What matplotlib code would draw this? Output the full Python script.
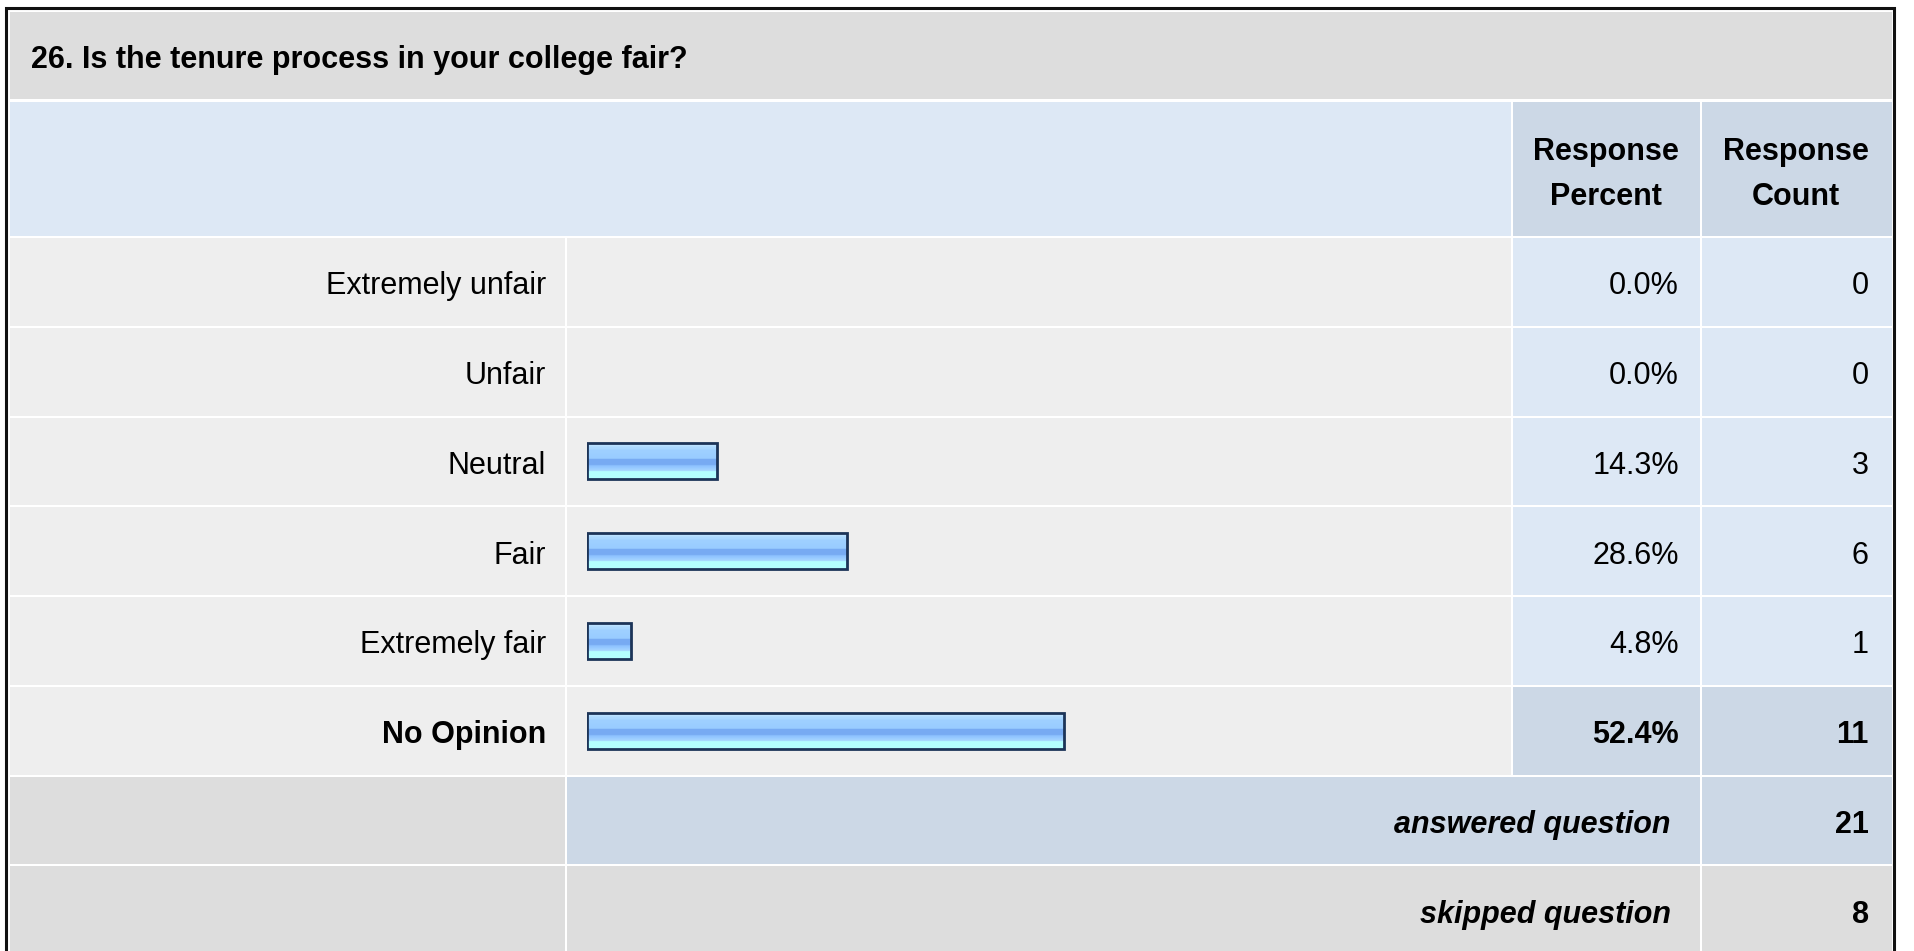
import numpy as np
import matplotlib.pyplot as plt
from matplotlib.patches import Rectangle
from matplotlib.colors import LinearSegmentedColormap

title = '26. Is the tenure process in your college fair?'
choices = ['Extremely unfair', 'Unfair', 'Neutral', 'Fair', 'Extremely fair', 'No Opinion']
percent = [0.0, 0.0, 14.3, 28.6, 4.8, 52.4]
count = [0, 0, 3, 6, 1, 11]
answered = 21
skipped = 8

W, H = 1915, 951
GRAY = '#dddddd'
LIGHT = '#eeeeee'
BLUE = '#dde8f5'
BLUE2 = '#ccd8e6'
FS = 22

plt.rcParams['font.family'] = ['Liberation Sans', 'DejaVu Sans']

fig = plt.figure(figsize=(W / 100, H / 100), dpi=100)
ax = fig.add_axes([0, 0, 1, 1])
ax.set_xlim(0, W)
ax.set_ylim(H, 0)
ax.axis('off')


def cell(x0, x1, y0, y1, color):
    ax.add_patch(Rectangle((x0, y0), x1 - x0, y1 - y0, facecolor=color, edgecolor='none'))


# outer frame (open at the bottom, the screenshot is cut there)
ax.plot([6, 6, 1894.5, 1894.5], [H + 5, 8, 8, H + 5], color='#111111', lw=2.2, solid_joinstyle='miter')

# column edges: label | bar | percent | count
cols = [(10, 565), (567, 1511), (1513, 1700), (1702, 1892)]
pitch = 89.75
row_top = [238 + pitch * i for i in range(8)]
row_h = pitch - 2

cell(10, 1892, 12, 99, GRAY)
cell(10, 1511, 102, 236, BLUE)
cell(1513, 1700, 102, 236, BLUE2)
cell(1702, 1892, 102, 236, BLUE2)

for i in range(len(choices)):
    y0 = row_top[i]
    last = i == len(choices) - 1
    cell(cols[0][0], cols[0][1], y0, y0 + row_h, LIGHT)
    cell(cols[1][0], cols[1][1], y0, y0 + row_h, LIGHT)
    cell(cols[2][0], cols[2][1], y0, y0 + row_h, BLUE2 if last else BLUE)
    cell(cols[3][0], cols[3][1], y0, y0 + row_h, BLUE2 if last else BLUE)

# summary rows
y0 = row_top[6]
cell(10, 565, y0, y0 + row_h, GRAY)
cell(567, 1700, y0, y0 + row_h, BLUE2)
cell(1702, 1892, y0, y0 + row_h, BLUE2)
y0 = row_top[7]
cell(10, 565, y0, H + 5, GRAY)
cell(567, 1700, y0, H + 5, GRAY)
cell(1702, 1892, y0, H + 5, GRAY)

# texts
ax.text(31, 68, title, fontsize=FS, fontweight='bold', va='baseline', ha='left')
ax.text(1606, 160, 'Response', fontsize=FS, fontweight='bold', va='baseline', ha='center')
ax.text(1606, 205, 'Percent', fontsize=FS, fontweight='bold', va='baseline', ha='center')
ax.text(1796, 160, 'Response', fontsize=FS, fontweight='bold', va='baseline', ha='center')
ax.text(1796, 205, 'Count', fontsize=FS, fontweight='bold', va='baseline', ha='center')

for i, (c, p, n) in enumerate(zip(choices, percent, count)):
    base = row_top[i] + row_h / 2 + 12.5
    wt = 'bold' if i == len(choices) - 1 else 'normal'
    ax.text(546, base, c, fontsize=FS, fontweight=wt, ha='right', va='baseline')
    ax.text(1679, base, f'{p:.1f}%', fontsize=FS, fontweight=wt, ha='right', va='baseline')
    ax.text(1869, base, str(n), fontsize=FS, fontweight=wt, ha='right', va='baseline')

base = row_top[6] + row_h / 2 + 12.5
ax.text(1671, base, 'answered question', fontsize=FS, fontweight='bold', style='italic', ha='right', va='baseline')
ax.text(1869, base, str(answered), fontsize=FS, fontweight='bold', ha='right', va='baseline')
base = row_top[7] + row_h / 2 + 12.5
ax.text(1671, base, 'skipped question', fontsize=FS, fontweight='bold', style='italic', ha='right', va='baseline')
ax.text(1869, base, str(skipped), fontsize=FS, fontweight='bold', ha='right', va='baseline')

# bars: percent scale 0..100 laid over the bar column
bx = fig.add_axes([587 / W, 1 - (237 + 6 * pitch) / H, 910 / W, 6 * pitch / H])
bx.set_xlim(0, 100)
bx.set_ylim(len(choices) - 0.5, -0.5)
bx.axis('off')
bx.patch.set_alpha(0)

grad = LinearSegmentedColormap.from_list('bar', [
    (0.0, '#d0ecff'), (0.1, '#b0dcff'), (0.2, '#9fd0ff'), (0.42, '#99ccff'),
    (0.45, '#77aaf2'), (0.6, '#77aaf2'), (0.65, '#90c4ff'), (0.76, '#a4d4ff'),
    (0.8, '#b3ffff'), (1.0, '#b3ffff')])

ypos = np.arange(len(choices))
shown = [i for i, p in enumerate(percent) if p > 0]
bars = bx.barh(ypos[shown], [percent[i] for i in shown], height=0.4, left=0,
               facecolor='none', edgecolor='#1c3458', linewidth=2.0, zorder=3)
for r in bars:
    x, y, w, h = r.get_x(), r.get_y(), r.get_width(), r.get_height()
    bx.imshow(np.linspace(0, 1, 64).reshape(-1, 1), cmap=grad, aspect='auto',
              extent=(x, x + w, y + h, y), origin='upper', zorder=2, interpolation='nearest')
bx.set_xlim(0, 100)
bx.set_ylim(len(choices) - 0.5, -0.5)

fig.savefig('out.png', dpi=100)
